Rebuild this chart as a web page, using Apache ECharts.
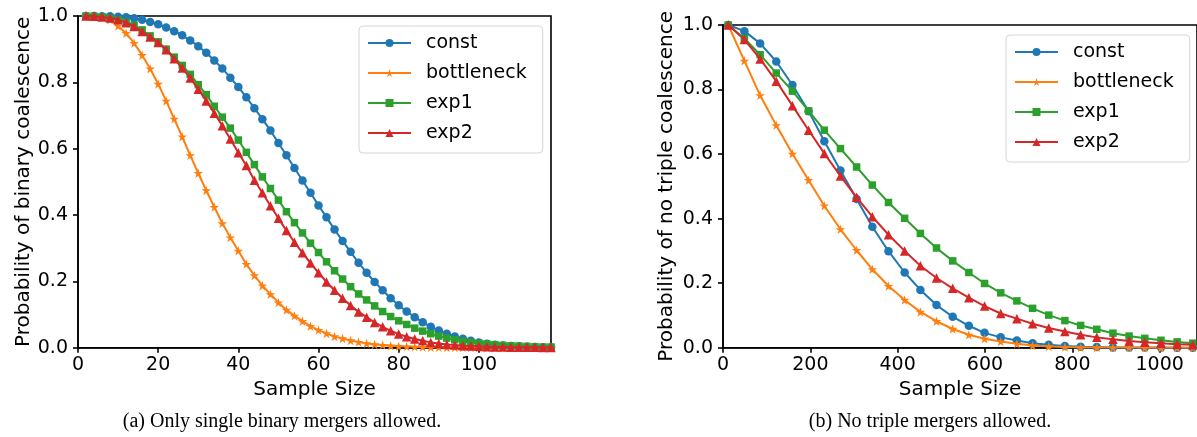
<!DOCTYPE html>
<html>
<head>
<meta charset="utf-8">
<script src="https://cdn.jsdelivr.net/npm/echarts@6/dist/echarts.min.js"></script>
<style>
html,body{margin:0;padding:0;background:#fff;}
#chart{width:1197px;height:437px;}
</style>
</head>
<body>
<div id="chart"></div>
<script>
// ---------- data ----------
const seriesNames = ['const', 'bottleneck', 'exp1', 'exp2'];

// (a) Only single binary mergers allowed
const leftX = [2,4,6,8,10,12,14,16,18,20,22,24,26,28,30,32,34,36,38,40,42,44,46,48,50,52,54,56,58,60,
  62,64,66,68,70,72,74,76,78,80,82,84,86,88,90,92,94,96,98,100,102,104,106,108,110,112,114,116,118];
const leftConst = [1.0,1.0,0.9995,0.999,0.998,0.996,0.993,0.989,0.982,0.975,
  0.965,0.954,0.942,0.926,0.909,0.889,0.866,0.842,0.814,0.786,
  0.755,0.722,0.689,0.655,0.617,0.580,0.542,0.504,0.467,0.429,
  0.393,0.356,0.322,0.289,0.256,0.226,0.198,0.173,0.149,0.128,
  0.109,0.092,0.077,0.063,0.052,0.042,0.034,0.027,0.021,0.016,
  0.012,0.009,0.007,0.005,0.004,0.003,0.002,0.0015,0.001];
const leftBottleneck = [1.0,0.999,0.996,0.989,0.970,0.948,0.918,0.882,0.841,0.795,
  0.744,0.690,0.636,0.580,0.526,0.474,0.424,0.375,0.332,0.292,
  0.252,0.218,0.187,0.161,0.136,0.114,0.096,0.080,0.065,0.053,
  0.043,0.034,0.028,0.022,0.017,0.013,0.010,0.008,0.006,0.0045,
  0.0035,0.0025,0.002,0.0015,0.001,0.0008,0.0006,0.0004,0.0003,0.0002,
  0.0002,0.0001,0.0001,0.0001,0,0,0,0,0];
const leftExp1 = [1.0,0.999,0.997,0.993,0.988,0.981,0.972,0.958,0.940,0.922,
  0.900,0.876,0.851,0.824,0.793,0.763,0.728,0.695,0.662,0.626,
  0.589,0.552,0.515,0.480,0.445,0.410,0.377,0.346,0.315,0.287,
  0.259,0.232,0.207,0.184,0.162,0.144,0.126,0.109,0.094,0.081,
  0.070,0.059,0.050,0.042,0.035,0.029,0.024,0.019,0.016,0.013,
  0.011,0.009,0.007,0.006,0.005,0.004,0.003,0.002,0.002];
const leftExp2 = [1.0,0.999,0.997,0.994,0.989,0.980,0.968,0.953,0.937,0.920,
  0.898,0.871,0.843,0.813,0.779,0.744,0.707,0.669,0.629,0.588,
  0.549,0.505,0.467,0.428,0.390,0.353,0.318,0.286,0.255,0.226,
  0.198,0.173,0.149,0.127,0.108,0.092,0.076,0.063,0.051,0.041,
  0.033,0.026,0.021,0.016,0.013,0.010,0.008,0.006,0.005,0.004,
  0.003,0.002,0.002,0.001,0.001,0.001,0.001,0.0005,0.0003];

// (b) No triple mergers allowed
const rightX = [12,49,85,122,159,196,232,269,306,342,379,416,452,489,526,563,599,636,673,709,
  746,783,819,856,893,930,966,1003,1040,1076];
const rightConst = [1.0,0.981,0.943,0.887,0.814,0.733,0.640,0.549,0.461,0.375,
  0.299,0.233,0.179,0.132,0.096,0.068,0.046,0.032,0.022,0.014,
  0.009,0.005,0.003,0.002,0.001,0.001,0.0005,0.0003,0.0002,0.0001];
const rightBottleneck = [1.0,0.889,0.782,0.689,0.601,0.519,0.440,0.367,0.302,0.243,
  0.191,0.148,0.111,0.082,0.058,0.040,0.028,0.019,0.012,0.007,
  0.004,0.002,0.001,0.001,0.0005,0.0003,0.0002,0.0001,0.0001,0.0];
const rightExp1 = [1.0,0.958,0.908,0.851,0.795,0.734,0.674,0.617,0.560,0.504,
  0.450,0.401,0.354,0.309,0.269,0.233,0.199,0.170,0.145,0.122,
  0.101,0.084,0.069,0.057,0.045,0.036,0.029,0.023,0.018,0.014];
const rightExp2 = [1.0,0.955,0.895,0.826,0.750,0.674,0.602,0.532,0.466,0.406,
  0.350,0.300,0.254,0.216,0.184,0.155,0.129,0.106,0.090,0.074,
  0.061,0.050,0.040,0.032,0.026,0.021,0.017,0.014,0.011,0.009];

const yTicks = [0, 0.2, 0.4, 0.6, 0.8, 1.0];
const leftXTicks = [0, 20, 40, 60, 80, 100];
const rightXTicks = [0, 200, 400, 600, 800, 1000];

const captionA = '(a) Only single binary mergers allowed.';
const captionB = '(b) No triple mergers allowed.';
const yNameA = 'Probability of binary coalescence';
const yNameB = 'Probability of no triple coalescence';
const xName = 'Sample Size';

// ---------- styles ----------
const colors = ['#1f77b4', '#ff7f0e', '#2ca02c', '#d62728'];
const starPath = 'path://M50,0 L61.2,34.5 L97.6,34.5 L68.2,55.9 L79.4,90.5 L50,69.1 L20.6,90.5 L31.8,55.9 L2.4,34.5 L38.8,34.5 Z';
const symbols = ['circle', starPath, 'rect', 'triangle'];
const symbolSizes = [8.5, 9.5, 7.5, 9.5];
const FONT = 'DejaVu Sans';

function zip(xs, ys) { return xs.map((x, i) => [x, ys[i]]); }

function makeSeries(idx, xAxisIndex, xs, ys) {
  return {
    name: seriesNames[idx],
    type: 'line',
    xAxisIndex: xAxisIndex,
    yAxisIndex: xAxisIndex,
    data: zip(xs, ys),
    symbol: symbols[idx],
    symbolSize: symbolSizes[idx],
    showAllSymbol: true,
    animation: false,
    clip: true,
    z: 2 + idx,
    lineStyle: { color: colors[idx], width: 2 },
    itemStyle: { color: colors[idx], borderWidth: 0 },
    emphasis: { disabled: true }
  };
}

function xAxisCfg(gridIndex, max, ticks) {
  return {
    type: 'value', gridIndex: gridIndex, min: 0, max: max,
    name: xName, nameLocation: 'middle', nameGap: 30,
    nameTextStyle: { fontFamily: FONT, fontSize: 20, color: '#000' },
    axisLine: { show: true, lineStyle: { color: '#000', width: 1.6 } },
    axisTick: { show: true, inside: false, length: 5, customValues: ticks, lineStyle: { color: '#000', width: 1.6 } },
    axisLabel: { show: true, customValues: ticks, margin: 8, fontFamily: FONT, fontSize: 19, color: '#000',
      formatter: v => String(Math.round(v)) },
    splitLine: { show: false }
  };
}

function yAxisCfg(gridIndex, name, gap) {
  return {
    type: 'value', gridIndex: gridIndex, min: 0, max: 1, interval: 0.2,
    name: name, nameLocation: 'middle', nameGap: gap,
    nameTextStyle: { fontFamily: FONT, fontSize: 20, color: '#000' },
    axisLine: { show: true, lineStyle: { color: '#000', width: 1.6 } },
    axisTick: { show: true, inside: false, length: 5, lineStyle: { color: '#000', width: 1.6 } },
    axisLabel: { show: true, margin: 10, fontFamily: FONT, fontSize: 19, color: '#000',
      formatter: v => v.toFixed(1) },
    splitLine: { show: false }
  };
}

function legendCfg(left, top) {
  return {
    data: seriesNames,
    orient: 'vertical',
    left: left, top: top,
    itemWidth: 43, itemHeight: 10, itemGap: 10,
    padding: [7, 16, 10, 8],
    backgroundColor: 'rgba(255,255,255,0.8)',
    borderColor: '#d6d6d6', borderWidth: 1, borderRadius: 4,
    selectedMode: false,
    textStyle: { fontFamily: FONT, fontSize: 19, color: '#000', lineHeight: 20, padding: [0, 0, 0, 10] }
  };
}

const chart = echarts.init(document.getElementById('chart'), null, { renderer: 'canvas' });
chart.setOption({
  animation: false,
  backgroundColor: '#fff',
  grid: [
    { left: 78, top: 16, width: 473, height: 331.7, show: true, borderColor: '#000', borderWidth: 1.6, backgroundColor: 'transparent' },
    { left: 723, top: 25, width: 476, height: 322.7, show: true, borderColor: '#000', borderWidth: 1.6, backgroundColor: 'transparent' }
  ],
  xAxis: [xAxisCfg(0, 118, leftXTicks), xAxisCfg(1, 1085.5, rightXTicks)],
  yAxis: [yAxisCfg(0, yNameA, 44), yAxisCfg(1, yNameB, 46)],
  legend: [legendCfg(359, 26), legendCfg(1006, 35)],
  series: [
    makeSeries(0, 0, leftX, leftConst),
    makeSeries(1, 0, leftX, leftBottleneck),
    makeSeries(2, 0, leftX, leftExp1),
    makeSeries(3, 0, leftX, leftExp2),
    makeSeries(0, 1, rightX, rightConst),
    makeSeries(1, 1, rightX, rightBottleneck),
    makeSeries(2, 1, rightX, rightExp1),
    makeSeries(3, 1, rightX, rightExp2)
  ],
  graphic: [
    { type: 'text', x: 282, y: 422, style: { text: captionA, x: 0, y: 0, align: 'center', verticalAlign: 'middle',
      font: '20px "Liberation Serif"', fill: '#000' } },
    { type: 'text', x: 930, y: 422, style: { text: captionB, x: 0, y: 0, align: 'center', verticalAlign: 'middle',
      font: '20px "Liberation Serif"', fill: '#000' } }
  ]
});
</script>
</body>
</html>
